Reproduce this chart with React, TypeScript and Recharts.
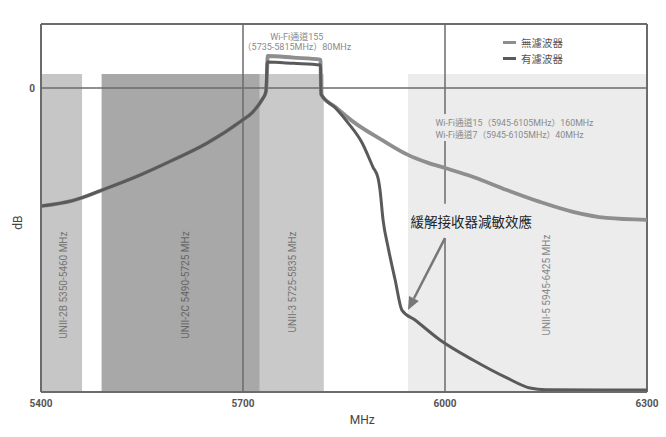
import {
  ComposedChart,
  Line,
  XAxis,
  YAxis,
  ReferenceArea,
  ReferenceLine,
  ReferenceDot,
  Legend,
} from "recharts"

const xTicks = [5400, 5700, 6000, 6300]
const yTicks = [0]

// 無濾波器
const noFilterMHz = [5400, 5447, 5498, 5547, 5596, 5646, 5696, 5715, 5728, 5734, 5735.7, 5736.5, 5775, 5815, 5816, 5837, 5866, 5906, 5945, 5975, 6000, 6042, 6092, 6141, 6190, 6240, 6300]
const noFilterDb = [-36.9, -35.2, -31.3, -27.2, -22.5, -17.3, -10.5, -7.4, -3.75, -1.2, 4, 10, 9.5, 8.9, -2.0, -5.9, -10.9, -16.2, -20.9, -23.4, -25.0, -27.8, -31.9, -35.6, -38.7, -40.6, -41.2]

// 有濾波器
const filterMHz = [5400, 5447, 5498, 5547, 5596, 5646, 5696, 5715, 5728, 5734, 5736, 5775, 5815, 5816, 5837, 5856, 5877, 5893, 5900.5, 5903.5, 5908, 5915.4, 5926, 5936, 5955.5, 5992.6, 6041.6, 6092, 6126, 6150, 6300]
const filterDb = [-36.9, -35.2, -31.3, -27.2, -22.5, -17.3, -10.5, -7.4, -3.75, -1.2, 8.1, 7.7, 7.2, -2.0, -6.2, -10.9, -17.2, -24.7, -28.1, -31.9, -41.2, -49.7, -60, -69.4, -72.5, -78.75, -85, -90.6, -93.75, -94.3, -94.4]

const legendOrder = ["無濾波器", "有濾波器"]

const bandNames = ["UNII-2B 5350-5460 MHz", "UNII-2C 5490-5725 MHz", "UNII-3 5725-5835 MHz", "UNII-5 5945-6425 MHz"]
const bandStart = [5400, 5490, 5725, 5945]
const bandEnd = [5461, 5725, 5820, 6300]
const bandTop = 4.4
const bandLabelMHz = [5433, 5615, 5774, 6151]
const bandLabelDb = [-61.6, -61.6, -60.6, -61.6]
const bandColors = ["#c6c6c6", "#a8a8a8", "#c9c9c9", "#ececec"]
const bandTextColors = ["#777", "#666", "#777", "#888"]

const noteLines = [
  "Wi-Fi通道155",
  "（5735-5815MHz）80MHz",
  "Wi-Fi通道15（5945-6105MHz）160MHz",
  "Wi-Fi通道7（5945-6105MHz）40MHz",
]
const noteMHz = [5780, 5780, 5986, 5986]
const noteDb = [15.9, 12.8, -10.8, -14.7]
const noteAnchor = ["middle", "middle", "start", "start"]
const noteSize = [9, 9, 8.8, 8.8]

const calloutText = "緩解接收器減敏效應"
const calloutMHz = 6039
const calloutDb = -41.9
const arrowFrom = { x: 6000, y: -46.9 }
const arrowTo = { x: 5945, y: -69.4 }

// 6000 MHz gridline pieces (broken by the annotations)
const grid6000 = [
  [20, -8.1],
  [-16.6, -36.2],
  [-46.9, -95],
]

const LIGHT = "#8e8e8e"
const DARK = "#5a5a5a"
const FRAME = "#6b6b6b"
const FONT = "Roboto, 'Noto Sans CJK TC', sans-serif"

const noFilterData = noFilterMHz.map((f, i) => ({ f, v: noFilterDb[i] }))
const filterData = filterMHz.map((f, i) => ({ f, v: filterDb[i] }))

function Arrow(props: any) {
  const { x1, y1, x2, y2 } = props
  const ang = Math.atan2(y2 - y1, x2 - x1)
  const len = 13
  const w = 5.5
  const bx = x2 - len * Math.cos(ang)
  const by = y2 - len * Math.sin(ang)
  const p1 = `${bx + w * Math.sin(ang)},${by - w * Math.cos(ang)}`
  const p2 = `${bx - w * Math.sin(ang)},${by + w * Math.cos(ang)}`
  return (
    <g>
      <line x1={x1} y1={y1} x2={bx} y2={by} stroke="#777" strokeWidth={2.5} />
      <polygon points={`${x2},${y2} ${p1} ${p2}`} fill="#777" />
    </g>
  )
}

const rotatedText = (text: string, color: string) => (p: any) => {
  const { x, y } = p.viewBox
  return (
    <text
      x={x}
      y={y}
      transform={`rotate(-90 ${x} ${y})`}
      textAnchor="middle"
      dominantBaseline="central"
      fontSize={10}
      fill={color}
      fontFamily={FONT}
    >
      {text}
    </text>
  )
}

const plainText = (text: string, anchor: string, size: number, color: string) => (p: any) => {
  const { x, y } = p.viewBox
  return (
    <text
      x={x}
      y={y}
      textAnchor={anchor as any}
      dominantBaseline="central"
      fontSize={size}
      fill={color}
      fontFamily={FONT}
    >
      {text}
    </text>
  )
}

function LegendBox(props: any) {
  const items = props.payload || []
  const ordered = legendOrder
    .map((name) => items.find((it: any) => it.value === name))
    .filter(Boolean)
  return (
    <div style={{ fontFamily: FONT, fontSize: 10.5, color: "#555" }}>
      {ordered.map((it: any) => (
        <div key={it.value} style={{ display: "flex", alignItems: "center", height: 16 }}>
          <span style={{ display: "inline-block", width: 13, height: 3, background: it.color, marginRight: 5 }} />
          <span>{it.value}</span>
        </div>
      ))}
    </div>
  )
}

export default function App() {
  return (
    <div style={{ width: 666, height: 437, background: "#fff" }}>
      <style>{"body{margin:0}"}</style>
      <ComposedChart
        width={666}
        height={437}
        margin={{ top: 24, right: 19, left: 0, bottom: 0 }}
        style={{ fontFamily: FONT }}
      >
        <XAxis
          type="number"
          dataKey="f"
          domain={[5400, 6300]}
          ticks={xTicks}
          allowDataOverflow
          height={45}
          tickLine={false}
          axisLine={{ stroke: FRAME, strokeWidth: 2 }}
          tick={{ fontSize: 10, fill: "#555", fontWeight: "bold", fontFamily: FONT }}
          label={{
            content: (p: any) => (
              <text
                x={p.viewBox.x + p.viewBox.width * 0.53}
                y={p.viewBox.y + 28}
                textAnchor="middle"
                dominantBaseline="central"
                fontSize={12}
                fill="#444"
                fontFamily={FONT}
              >
                MHz
              </text>
            ),
          }}
        />
        <YAxis
          type="number"
          dataKey="v"
          domain={[-95, 20]}
          ticks={yTicks}
          allowDataOverflow
          width={41}
          tickLine={false}
          tickMargin={0}
          axisLine={{ stroke: FRAME, strokeWidth: 2 }}
          tick={{ fontSize: 10, fill: "#555", fontWeight: "bold", fontFamily: FONT }}
          label={{
            content: (p: any) => {
              const x = p.viewBox.x + 18
              const y = p.viewBox.y + p.viewBox.height * 0.54
              return (
                <text
                  x={x}
                  y={y}
                  transform={`rotate(-90 ${x} ${y})`}
                  textAnchor="middle"
                  dominantBaseline="central"
                  fontSize={12}
                  fill="#444"
                  fontFamily={FONT}
                >
                  dB
                </text>
              )
            },
          }}
        />

        {bandNames.map((name, i) => (
          <ReferenceArea
            key={name}
            x1={bandStart[i]}
            x2={bandEnd[i]}
            y1={-95}
            y2={bandTop}
            fill={bandColors[i]}
            fillOpacity={1}
            stroke="none"
            ifOverflow="visible"
          />
        ))}

        <ReferenceLine y={0} stroke={FRAME} strokeWidth={1.5} />
        <ReferenceLine y={20} stroke={FRAME} strokeWidth={2} />
        <ReferenceLine x={6300} stroke={FRAME} strokeWidth={2} />
        <ReferenceLine x={5700} stroke={FRAME} strokeWidth={1.5} />
        {grid6000.map(([a, b], i) => (
          <ReferenceLine
            key={"g" + i}
            segment={[{ x: 6000, y: a }, { x: 6000, y: b }]}
            stroke={FRAME}
            strokeWidth={1.5}
          />
        ))}

        {bandNames.map((name, i) => (
          <ReferenceDot
            key={"lbl" + name}
            x={bandLabelMHz[i]}
            y={bandLabelDb[i]}
            r={0}
            fill="none"
            stroke="none"
            ifOverflow="visible"
            label={{ content: rotatedText(name, bandTextColors[i]) }}
          />
        ))}

        <Line
          name="無濾波器"
          data={noFilterData}
          dataKey="v"
          type="monotone"
          stroke={LIGHT}
          strokeWidth={3.8}
          dot={false}
          isAnimationActive={false}
        />
        <Line
          name="有濾波器"
          data={filterData}
          dataKey="v"
          type="monotone"
          stroke={DARK}
          strokeWidth={3}
          dot={false}
          isAnimationActive={false}
        />

        <ReferenceLine segment={[arrowFrom, arrowTo]} shape={Arrow} />

        {noteLines.map((t, i) => (
          <ReferenceDot
            key={"note" + i}
            x={noteMHz[i]}
            y={noteDb[i]}
            r={0}
            fill="none"
            stroke="none"
            ifOverflow="visible"
            label={{ content: plainText(t, noteAnchor[i], noteSize[i], "#8a8a8a") }}
          />
        ))}
        <ReferenceDot
          x={calloutMHz}
          y={calloutDb}
          r={0}
          fill="none"
          stroke="none"
          ifOverflow="visible"
          label={{ content: plainText(calloutText, "middle", 13.5, "#222") }}
        />

        <Legend
          layout="vertical"
          align="center"
          verticalAlign="middle"
          wrapperStyle={{ top: 34, left: 503, width: 90 }}
          content={LegendBox}
        />
      </ComposedChart>
    </div>
  )
}
